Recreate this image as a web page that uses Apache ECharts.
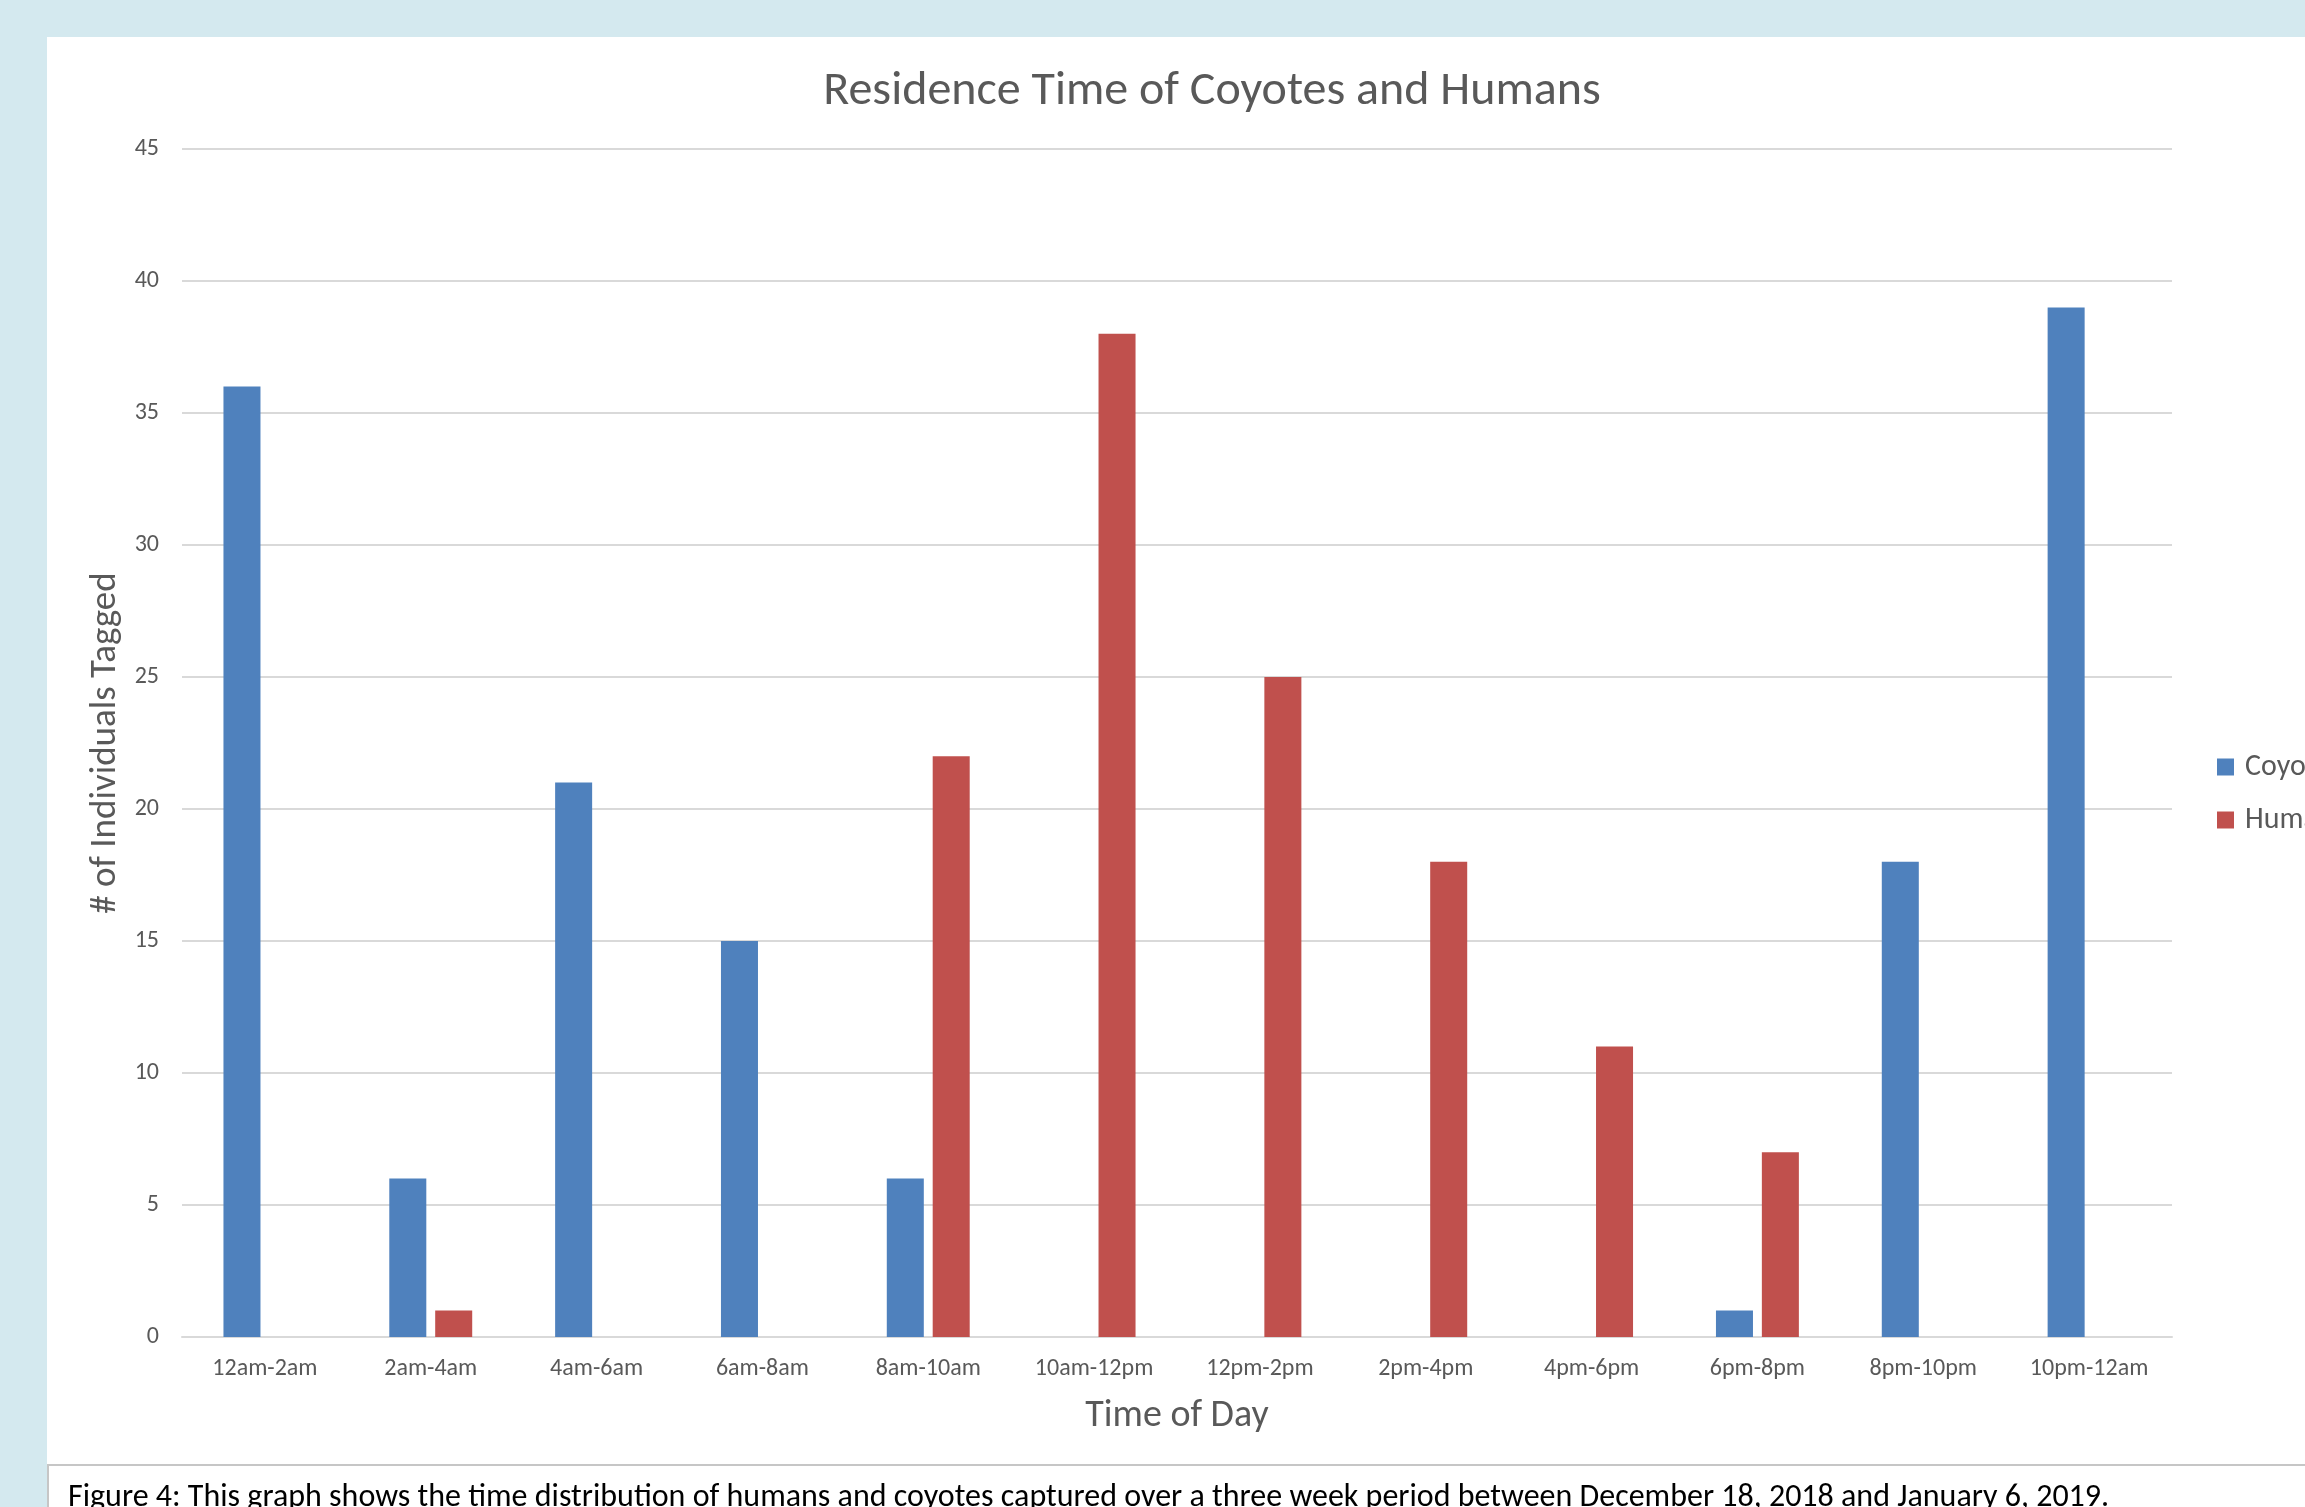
<!DOCTYPE html>
<html>
<head>
<meta charset="utf-8">
<title>Residence Time of Coyotes and Humans</title>
<script src="https://cdn.jsdelivr.net/npm/echarts@6/dist/echarts.min.js"></script>
<style>
  html, body { margin: 0; padding: 0; background: #d4e9ef; }
  #chart { width: 2305px; height: 1507px; }
</style>
</head>
<body>
<div id="chart"></div>
<script>
// time slots on the x axis
var timeSlots = ['12am-2am', '2am-4am', '4am-6am', '6am-8am', '8am-10am', '10am-12pm',
                 '12pm-2pm', '2pm-4pm', '4pm-6pm', '6pm-8pm', '8pm-10pm', '10pm-12am'];
// individuals tagged per slot
var coyotes = [36, 6, 21, 15, 6, 0, 0, 0, 0, 1, 18, 39];
var humans  = [0, 1, 0, 0, 22, 38, 25, 18, 11, 7, 0, 0];
var yMin = 0, yMax = 45, yStep = 5;

var fontName = "Carlito, Calibri, 'Open Sans', sans-serif";
var greyText = '#595959';
var caption = 'Figure 4: This graph shows the time distribution of humans and coyotes captured over a three week period between December 18, 2018 and January 6, 2019.';

var myChart = echarts.init(document.getElementById('chart'));

var option = {
  backgroundColor: '#ffffff',
  textStyle: { fontFamily: fontName },
  title: {
    text: 'Residence Time of Coyotes and Humans',
    left: 1212,
    top: 68,
    padding: 0,
    textAlign: 'center',
    textStyle: { color: greyText, fontSize: 48, fontWeight: 'normal', fontFamily: fontName }
  },
  legend: {
    orient: 'vertical',
    left: 2217,
    top: 752,
    padding: 0,
    itemWidth: 17,
    itemHeight: 17,
    itemGap: 23,
    icon: 'rect',
    textStyle: { color: greyText, fontSize: 30, fontFamily: fontName, padding: [0, 0, 0, 6] },
    data: ['Coyotes', 'Humans']
  },
  grid: { left: 182, right: 133, top: 149, bottom: 170, containLabel: false },
  xAxis: {
    type: 'category',
    data: timeSlots,
    name: 'Time of Day',
    nameLocation: 'middle',
    nameGap: 60,
    nameTextStyle: { color: greyText, fontSize: 38, fontFamily: fontName },
    axisLine: { show: true, lineStyle: { color: '#d9d9d9', width: 2 } },
    axisTick: { show: false },
    axisLabel: { color: greyText, fontSize: 24, margin: 20, interval: 0, fontFamily: fontName }
  },
  yAxis: {
    type: 'value',
    min: yMin,
    max: yMax,
    interval: yStep,
    name: '# of Individuals Tagged',
    nameLocation: 'middle',
    nameGap: 55,
    nameTextStyle: { color: greyText, fontSize: 37, fontFamily: fontName },
    axisLine: { show: false },
    axisTick: { show: false },
    axisLabel: { color: greyText, fontSize: 24, margin: 23, fontFamily: fontName },
    splitLine: { show: true, lineStyle: { color: '#d9d9d9', width: 2 } }
  },
  series: [
    {
      name: 'Coyotes',
      type: 'bar',
      data: coyotes,
      barCategoryGap: '50%',
      barGap: '24%',
      itemStyle: { color: '#4f81bd' }
    },
    {
      name: 'Humans',
      type: 'bar',
      data: humans,
      barCategoryGap: '50%',
      barGap: '24%',
      itemStyle: { color: '#c0504d' }
    }
  ],
  graphic: [
    // light blue frame, top strip and left strip
    { type: 'rect', left: 0, top: 0, shape: { width: 2305, height: 37 }, style: { fill: '#d4e9ef' }, silent: true },
    { type: 'rect', left: 0, top: 0, shape: { width: 47, height: 1507 }, style: { fill: '#d4e9ef' }, silent: true },
    // caption box
    { type: 'rect', left: 47, top: 1464, shape: { width: 2270, height: 60 },
      style: { fill: '#ffffff', stroke: '#c6c6c6', lineWidth: 2 }, silent: true },
    { type: 'text', left: 68, top: 1482,
      style: { text: caption, fill: '#000000', font: '32px ' + fontName }, silent: true }
  ]
};

myChart.setOption(option);
</script>
</body>
</html>
